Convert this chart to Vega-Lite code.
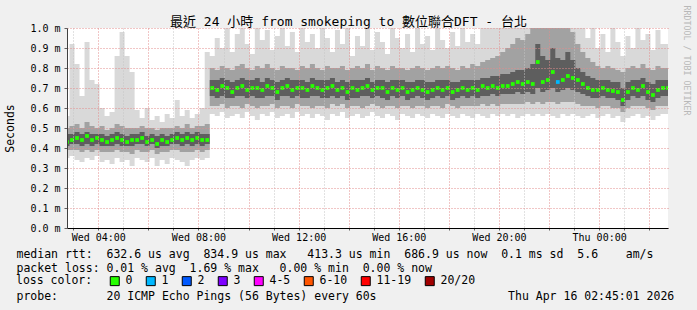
{
  "$schema": "https://vega.github.io/schema/vega-lite/v6.json",
  "width": 601,
  "height": 200,
  "autosize": {"type": "none"},
  "padding": {"left": 67, "top": 28, "right": 29, "bottom": 82},
  "background": "#f0f0f0",
  "config": {
    "view": {"stroke": null, "fill": "#ffffff"},
    "font": "DejaVu Sans Mono, Noto Sans CJK TC",
    "axis": {"labelFont": "DejaVu Sans Mono", "titleFont": "DejaVu Sans Mono", "labelColor": "#000000", "titleColor": "#000000", "titleFontWeight": "normal"},
    "legend": {"labelFont": "DejaVu Sans Mono", "titleFont": "DejaVu Sans Mono"}
  },
  "title": {
    "text": "最近 24 小時 from smokeping to 數位聯合DFT - 台北",
    "font": "DejaVu Sans Mono, Noto Sans CJK TC",
    "fontSize": 13,
    "fontWeight": "normal",
    "color": "#000000",
    "anchor": "middle",
    "frame": "group",
    "dx": -19,
    "baseline": "middle",
    "offset": -30
  },
  "data": {"values": [
    {"t":"2026-04-15T02:45:00Z","m":0.43,"a":0.35,"b":0.39,"c":0.41,"d":0.47,"e":0.50,"f":0.56,"l":"0"},
    {"t":"2026-04-15T02:57:00Z","m":0.44,"a":0.36,"b":0.39,"c":0.42,"d":0.47,"e":0.51,"f":0.92,"l":"0"},
    {"t":"2026-04-15T03:09:00Z","m":0.45,"a":0.34,"b":0.39,"c":0.42,"d":0.48,"e":0.52,"f":0.82,"l":"0"},
    {"t":"2026-04-15T03:21:00Z","m":0.44,"a":0.33,"b":0.38,"c":0.41,"d":0.47,"e":0.50,"f":0.66,"l":"0"},
    {"t":"2026-04-15T03:33:00Z","m":0.46,"a":0.35,"b":0.39,"c":0.42,"d":0.48,"e":0.53,"f":0.93,"l":"0"},
    {"t":"2026-04-15T03:45:00Z","m":0.44,"a":0.34,"b":0.38,"c":0.41,"d":0.47,"e":0.51,"f":0.74,"l":"0"},
    {"t":"2026-04-15T03:57:00Z","m":0.45,"a":0.36,"b":0.39,"c":0.42,"d":0.47,"e":0.50,"f":0.72,"l":"0"},
    {"t":"2026-04-15T04:09:00Z","m":0.44,"a":0.33,"b":0.38,"c":0.41,"d":0.47,"e":0.51,"f":0.60,"l":"0"},
    {"t":"2026-04-15T04:21:00Z","m":0.43,"a":0.34,"b":0.38,"c":0.41,"d":0.46,"e":0.49,"f":0.56,"l":"0"},
    {"t":"2026-04-15T04:33:00Z","m":0.44,"a":0.32,"b":0.38,"c":0.41,"d":0.47,"e":0.50,"f":0.58,"l":"0"},
    {"t":"2026-04-15T04:45:00Z","m":0.45,"a":0.35,"b":0.39,"c":0.42,"d":0.48,"e":0.52,"f":0.86,"l":"0"},
    {"t":"2026-04-15T04:57:00Z","m":0.44,"a":0.33,"b":0.38,"c":0.41,"d":0.47,"e":0.51,"f":0.98,"l":"0"},
    {"t":"2026-04-15T05:09:00Z","m":0.43,"a":0.34,"b":0.38,"c":0.41,"d":0.46,"e":0.50,"f":0.86,"l":"0"},
    {"t":"2026-04-15T05:21:00Z","m":0.44,"a":0.31,"b":0.37,"c":0.41,"d":0.47,"e":0.50,"f":0.78,"l":"0"},
    {"t":"2026-04-15T05:33:00Z","m":0.44,"a":0.35,"b":0.39,"c":0.42,"d":0.47,"e":0.50,"f":0.59,"l":"0"},
    {"t":"2026-04-15T05:45:00Z","m":0.45,"a":0.34,"b":0.38,"c":0.42,"d":0.48,"e":0.51,"f":0.55,"l":"0"},
    {"t":"2026-04-15T05:57:00Z","m":0.43,"a":0.33,"b":0.38,"c":0.41,"d":0.46,"e":0.50,"f":0.60,"l":"0"},
    {"t":"2026-04-15T06:09:00Z","m":0.44,"a":0.35,"b":0.39,"c":0.42,"d":0.47,"e":0.50,"f":0.54,"l":"0"},
    {"t":"2026-04-15T06:21:00Z","m":0.42,"a":0.31,"b":0.37,"c":0.40,"d":0.46,"e":0.49,"f":0.56,"l":"0"},
    {"t":"2026-04-15T06:33:00Z","m":0.44,"a":0.34,"b":0.38,"c":0.41,"d":0.47,"e":0.50,"f":0.53,"l":"0"},
    {"t":"2026-04-15T06:45:00Z","m":0.43,"a":0.32,"b":0.38,"c":0.41,"d":0.46,"e":0.50,"f":0.57,"l":"0"},
    {"t":"2026-04-15T06:57:00Z","m":0.44,"a":0.35,"b":0.39,"c":0.42,"d":0.47,"e":0.50,"f":0.55,"l":"0"},
    {"t":"2026-04-15T07:09:00Z","m":0.45,"a":0.34,"b":0.39,"c":0.42,"d":0.48,"e":0.51,"f":0.64,"l":"0"},
    {"t":"2026-04-15T07:21:00Z","m":0.44,"a":0.33,"b":0.38,"c":0.41,"d":0.47,"e":0.50,"f":0.56,"l":"0"},
    {"t":"2026-04-15T07:33:00Z","m":0.45,"a":0.31,"b":0.38,"c":0.42,"d":0.48,"e":0.52,"f":0.59,"l":"0"},
    {"t":"2026-04-15T07:45:00Z","m":0.44,"a":0.34,"b":0.38,"c":0.41,"d":0.47,"e":0.50,"f":0.55,"l":"0"},
    {"t":"2026-04-15T07:57:00Z","m":0.45,"a":0.35,"b":0.39,"c":0.42,"d":0.48,"e":0.51,"f":0.57,"l":"0"},
    {"t":"2026-04-15T08:09:00Z","m":0.44,"a":0.34,"b":0.38,"c":0.41,"d":0.47,"e":0.51,"f":0.60,"l":"0"},
    {"t":"2026-04-15T08:21:00Z","m":0.44,"a":0.35,"b":0.39,"c":0.42,"d":0.47,"e":0.52,"f":0.88,"l":"0"},
    {"t":"2026-04-15T08:33:00Z","m":0.70,"a":0.57,"b":0.61,"c":0.66,"d":0.74,"e":0.80,"f":0.86,"l":"0"},
    {"t":"2026-04-15T08:45:00Z","m":0.69,"a":0.56,"b":0.61,"c":0.65,"d":0.74,"e":0.79,"f":0.95,"l":"0"},
    {"t":"2026-04-15T08:57:00Z","m":0.71,"a":0.58,"b":0.62,"c":0.66,"d":0.75,"e":0.81,"f":0.90,"l":"0"},
    {"t":"2026-04-15T09:09:00Z","m":0.70,"a":0.55,"b":0.60,"c":0.65,"d":0.74,"e":0.80,"f":1.00,"l":"0"},
    {"t":"2026-04-15T09:21:00Z","m":0.68,"a":0.56,"b":0.61,"c":0.65,"d":0.73,"e":0.79,"f":0.88,"l":"0"},
    {"t":"2026-04-15T09:33:00Z","m":0.70,"a":0.57,"b":0.61,"c":0.66,"d":0.74,"e":0.81,"f":0.97,"l":"0"},
    {"t":"2026-04-15T09:45:00Z","m":0.71,"a":0.55,"b":0.60,"c":0.66,"d":0.75,"e":0.82,"f":1.00,"l":"0"},
    {"t":"2026-04-15T09:57:00Z","m":0.69,"a":0.58,"b":0.62,"c":0.65,"d":0.74,"e":0.80,"f":0.92,"l":"0"},
    {"t":"2026-04-15T10:09:00Z","m":0.70,"a":0.56,"b":0.61,"c":0.66,"d":0.74,"e":0.79,"f":0.87,"l":"0"},
    {"t":"2026-04-15T10:21:00Z","m":0.70,"a":0.54,"b":0.60,"c":0.65,"d":0.75,"e":0.81,"f":1.00,"l":"0"},
    {"t":"2026-04-15T10:33:00Z","m":0.69,"a":0.57,"b":0.61,"c":0.65,"d":0.73,"e":0.80,"f":0.94,"l":"0"},
    {"t":"2026-04-15T10:45:00Z","m":0.71,"a":0.56,"b":0.61,"c":0.66,"d":0.75,"e":0.82,"f":0.99,"l":"0"},
    {"t":"2026-04-15T10:57:00Z","m":0.70,"a":0.58,"b":0.62,"c":0.66,"d":0.74,"e":0.80,"f":0.89,"l":"0"},
    {"t":"2026-04-15T11:09:00Z","m":0.68,"a":0.55,"b":0.60,"c":0.64,"d":0.73,"e":0.79,"f":0.96,"l":"0"},
    {"t":"2026-04-15T11:21:00Z","m":0.70,"a":0.56,"b":0.61,"c":0.66,"d":0.74,"e":0.81,"f":1.00,"l":"0"},
    {"t":"2026-04-15T11:33:00Z","m":0.71,"a":0.57,"b":0.61,"c":0.66,"d":0.75,"e":0.80,"f":0.91,"l":"0"},
    {"t":"2026-04-15T11:45:00Z","m":0.69,"a":0.55,"b":0.60,"c":0.65,"d":0.74,"e":0.80,"f":0.98,"l":"0"},
    {"t":"2026-04-15T11:57:00Z","m":0.70,"a":0.58,"b":0.62,"c":0.66,"d":0.74,"e":0.79,"f":0.88,"l":"0"},
    {"t":"2026-04-15T12:09:00Z","m":0.70,"a":0.56,"b":0.61,"c":0.65,"d":0.74,"e":0.81,"f":1.00,"l":"0"},
    {"t":"2026-04-15T12:21:00Z","m":0.69,"a":0.57,"b":0.61,"c":0.65,"d":0.73,"e":0.80,"f":0.93,"l":"0"},
    {"t":"2026-04-15T12:33:00Z","m":0.71,"a":0.55,"b":0.60,"c":0.66,"d":0.75,"e":0.82,"f":0.97,"l":"0"},
    {"t":"2026-04-15T12:45:00Z","m":0.70,"a":0.57,"b":0.61,"c":0.66,"d":0.74,"e":0.80,"f":0.90,"l":"0"},
    {"t":"2026-04-15T12:57:00Z","m":0.69,"a":0.56,"b":0.61,"c":0.65,"d":0.74,"e":0.79,"f":1.00,"l":"0"},
    {"t":"2026-04-15T13:09:00Z","m":0.70,"a":0.54,"b":0.60,"c":0.65,"d":0.74,"e":0.81,"f":0.95,"l":"0"},
    {"t":"2026-04-15T13:21:00Z","m":0.71,"a":0.57,"b":0.62,"c":0.66,"d":0.75,"e":0.80,"f":0.88,"l":"0"},
    {"t":"2026-04-15T13:33:00Z","m":0.69,"a":0.56,"b":0.61,"c":0.65,"d":0.73,"e":0.80,"f":0.99,"l":"0"},
    {"t":"2026-04-15T13:45:00Z","m":0.70,"a":0.58,"b":0.62,"c":0.66,"d":0.74,"e":0.81,"f":0.92,"l":"0"},
    {"t":"2026-04-15T13:57:00Z","m":0.68,"a":0.55,"b":0.60,"c":0.64,"d":0.73,"e":0.79,"f":1.00,"l":"0"},
    {"t":"2026-04-15T14:09:00Z","m":0.70,"a":0.56,"b":0.61,"c":0.65,"d":0.74,"e":0.80,"f":0.86,"l":"0"},
    {"t":"2026-04-15T14:21:00Z","m":0.69,"a":0.57,"b":0.61,"c":0.65,"d":0.74,"e":0.81,"f":0.96,"l":"0"},
    {"t":"2026-04-15T14:33:00Z","m":0.70,"a":0.55,"b":0.60,"c":0.66,"d":0.74,"e":0.80,"f":0.91,"l":"0"},
    {"t":"2026-04-15T14:45:00Z","m":0.71,"a":0.56,"b":0.61,"c":0.66,"d":0.75,"e":0.82,"f":1.00,"l":"0"},
    {"t":"2026-04-15T14:57:00Z","m":0.69,"a":0.58,"b":0.62,"c":0.65,"d":0.73,"e":0.79,"f":0.89,"l":"0"},
    {"t":"2026-04-15T15:09:00Z","m":0.70,"a":0.56,"b":0.61,"c":0.66,"d":0.74,"e":0.81,"f":0.98,"l":"0"},
    {"t":"2026-04-15T15:21:00Z","m":0.70,"a":0.55,"b":0.60,"c":0.65,"d":0.74,"e":0.80,"f":0.93,"l":"0"},
    {"t":"2026-04-15T15:33:00Z","m":0.68,"a":0.57,"b":0.61,"c":0.64,"d":0.73,"e":0.79,"f":0.87,"l":"0"},
    {"t":"2026-04-15T15:45:00Z","m":0.70,"a":0.56,"b":0.61,"c":0.66,"d":0.74,"e":0.81,"f":1.00,"l":"0"},
    {"t":"2026-04-15T15:57:00Z","m":0.69,"a":0.54,"b":0.60,"c":0.65,"d":0.74,"e":0.80,"f":0.95,"l":"0"},
    {"t":"2026-04-15T16:09:00Z","m":0.70,"a":0.57,"b":0.61,"c":0.66,"d":0.74,"e":0.80,"f":0.90,"l":"0"},
    {"t":"2026-04-15T16:21:00Z","m":0.68,"a":0.56,"b":0.61,"c":0.64,"d":0.73,"e":0.79,"f":0.97,"l":"0"},
    {"t":"2026-04-15T16:33:00Z","m":0.69,"a":0.55,"b":0.60,"c":0.65,"d":0.73,"e":0.80,"f":0.88,"l":"0"},
    {"t":"2026-04-15T16:45:00Z","m":0.70,"a":0.57,"b":0.61,"c":0.66,"d":0.74,"e":0.81,"f":1.00,"l":"0"},
    {"t":"2026-04-15T16:57:00Z","m":0.69,"a":0.56,"b":0.61,"c":0.65,"d":0.74,"e":0.80,"f":0.92,"l":"0"},
    {"t":"2026-04-15T17:09:00Z","m":0.68,"a":0.55,"b":0.60,"c":0.64,"d":0.73,"e":0.79,"f":0.96,"l":"0"},
    {"t":"2026-04-15T17:21:00Z","m":0.69,"a":0.57,"b":0.61,"c":0.65,"d":0.73,"e":0.80,"f":0.89,"l":"0"},
    {"t":"2026-04-15T17:33:00Z","m":0.70,"a":0.56,"b":0.61,"c":0.66,"d":0.74,"e":0.81,"f":1.00,"l":"0"},
    {"t":"2026-04-15T17:45:00Z","m":0.69,"a":0.55,"b":0.60,"c":0.65,"d":0.74,"e":0.80,"f":0.94,"l":"0"},
    {"t":"2026-04-15T17:57:00Z","m":0.70,"a":0.57,"b":0.62,"c":0.66,"d":0.74,"e":0.81,"f":0.90,"l":"0"},
    {"t":"2026-04-15T18:09:00Z","m":0.68,"a":0.56,"b":0.61,"c":0.64,"d":0.73,"e":0.80,"f":0.98,"l":"0"},
    {"t":"2026-04-15T18:21:00Z","m":0.69,"a":0.55,"b":0.60,"c":0.65,"d":0.73,"e":0.79,"f":0.91,"l":"0"},
    {"t":"2026-04-15T18:33:00Z","m":0.70,"a":0.57,"b":0.61,"c":0.66,"d":0.74,"e":0.81,"f":1.00,"l":"0"},
    {"t":"2026-04-15T18:45:00Z","m":0.69,"a":0.56,"b":0.61,"c":0.65,"d":0.74,"e":0.80,"f":0.93,"l":"0"},
    {"t":"2026-04-15T18:57:00Z","m":0.70,"a":0.55,"b":0.61,"c":0.66,"d":0.74,"e":0.82,"f":0.97,"l":"0"},
    {"t":"2026-04-15T19:09:00Z","m":0.69,"a":0.57,"b":0.61,"c":0.65,"d":0.74,"e":0.81,"f":0.92,"l":"0"},
    {"t":"2026-04-15T19:21:00Z","m":0.71,"a":0.56,"b":0.62,"c":0.66,"d":0.75,"e":0.83,"f":1.00,"l":"0"},
    {"t":"2026-04-15T19:33:00Z","m":0.70,"a":0.55,"b":0.61,"c":0.66,"d":0.75,"e":0.84,"f":1.00,"l":"0"},
    {"t":"2026-04-15T19:45:00Z","m":0.71,"a":0.57,"b":0.62,"c":0.67,"d":0.76,"e":0.85,"f":1.00,"l":"0"},
    {"t":"2026-04-15T19:57:00Z","m":0.70,"a":0.56,"b":0.61,"c":0.66,"d":0.76,"e":0.86,"f":1.00,"l":"0"},
    {"t":"2026-04-15T20:09:00Z","m":0.71,"a":0.57,"b":0.62,"c":0.67,"d":0.77,"e":0.88,"f":1.00,"l":"0"},
    {"t":"2026-04-15T20:21:00Z","m":0.71,"a":0.56,"b":0.62,"c":0.67,"d":0.77,"e":0.90,"f":1.00,"l":"0"},
    {"t":"2026-04-15T20:33:00Z","m":0.72,"a":0.57,"b":0.62,"c":0.67,"d":0.78,"e":0.92,"f":1.00,"l":"0"},
    {"t":"2026-04-15T20:45:00Z","m":0.73,"a":0.55,"b":0.62,"c":0.68,"d":0.79,"e":0.95,"f":1.00,"l":"0"},
    {"t":"2026-04-15T20:57:00Z","m":0.72,"a":0.56,"b":0.62,"c":0.67,"d":0.79,"e":0.94,"f":1.00,"l":"0"},
    {"t":"2026-04-15T21:09:00Z","m":0.73,"a":0.57,"b":0.63,"c":0.68,"d":0.80,"e":0.97,"f":1.00,"l":"0"},
    {"t":"2026-04-15T21:21:00Z","m":0.72,"a":0.56,"b":0.62,"c":0.67,"d":0.82,"e":1.00,"f":1.00,"l":"0"},
    {"t":"2026-04-15T21:33:00Z","m":0.83,"a":0.57,"b":0.63,"c":0.70,"d":0.92,"e":1.00,"f":1.00,"l":"0"},
    {"t":"2026-04-15T21:45:00Z","m":0.73,"a":0.56,"b":0.62,"c":0.68,"d":0.86,"e":1.00,"f":1.00,"l":"0"},
    {"t":"2026-04-15T21:57:00Z","m":0.74,"a":0.57,"b":0.63,"c":0.69,"d":0.84,"e":1.00,"f":1.00,"l":"0"},
    {"t":"2026-04-15T22:09:00Z","m":0.78,"a":0.56,"b":0.63,"c":0.70,"d":0.90,"e":1.00,"f":1.00,"l":"0"},
    {"t":"2026-04-15T22:21:00Z","m":0.73,"a":0.55,"b":0.62,"c":0.68,"d":0.85,"e":1.00,"f":1.00,"l":"1"},
    {"t":"2026-04-15T22:33:00Z","m":0.74,"a":0.57,"b":0.63,"c":0.69,"d":0.84,"e":1.00,"f":1.00,"l":"0"},
    {"t":"2026-04-15T22:45:00Z","m":0.76,"a":0.56,"b":0.63,"c":0.70,"d":0.88,"e":1.00,"f":1.00,"l":"0"},
    {"t":"2026-04-15T22:57:00Z","m":0.75,"a":0.57,"b":0.63,"c":0.69,"d":0.84,"e":0.98,"f":1.00,"l":"0"},
    {"t":"2026-04-15T23:09:00Z","m":0.74,"a":0.56,"b":0.62,"c":0.68,"d":0.80,"e":0.92,"f":1.00,"l":"0"},
    {"t":"2026-04-15T23:21:00Z","m":0.72,"a":0.55,"b":0.61,"c":0.67,"d":0.78,"e":0.88,"f":1.00,"l":"0"},
    {"t":"2026-04-15T23:33:00Z","m":0.70,"a":0.56,"b":0.61,"c":0.66,"d":0.76,"e":0.85,"f":0.95,"l":"0"},
    {"t":"2026-04-15T23:45:00Z","m":0.69,"a":0.57,"b":0.61,"c":0.65,"d":0.75,"e":0.83,"f":1.00,"l":"0"},
    {"t":"2026-04-15T23:57:00Z","m":0.69,"a":0.55,"b":0.60,"c":0.65,"d":0.74,"e":0.81,"f":0.90,"l":"0"},
    {"t":"2026-04-16T00:09:00Z","m":0.70,"a":0.56,"b":0.61,"c":0.66,"d":0.74,"e":0.80,"f":0.97,"l":"0"},
    {"t":"2026-04-16T00:21:00Z","m":0.69,"a":0.57,"b":0.61,"c":0.65,"d":0.74,"e":0.81,"f":0.88,"l":"0"},
    {"t":"2026-04-16T00:33:00Z","m":0.685,"a":0.55,"b":0.60,"c":0.65,"d":0.73,"e":0.80,"f":1.00,"l":"0"},
    {"t":"2026-04-16T00:45:00Z","m":0.68,"a":0.56,"b":0.60,"c":0.64,"d":0.73,"e":0.79,"f":0.93,"l":"0"},
    {"t":"2026-04-16T00:57:00Z","m":0.64,"a":0.53,"b":0.58,"c":0.61,"d":0.70,"e":0.78,"f":0.86,"l":"0"},
    {"t":"2026-04-16T01:09:00Z","m":0.68,"a":0.55,"b":0.60,"c":0.64,"d":0.73,"e":0.80,"f":0.96,"l":"0"},
    {"t":"2026-04-16T01:21:00Z","m":0.70,"a":0.56,"b":0.61,"c":0.66,"d":0.74,"e":0.81,"f":0.90,"l":"0"},
    {"t":"2026-04-16T01:33:00Z","m":0.69,"a":0.57,"b":0.61,"c":0.65,"d":0.74,"e":0.80,"f":1.00,"l":"0"},
    {"t":"2026-04-16T01:45:00Z","m":0.71,"a":0.55,"b":0.61,"c":0.66,"d":0.75,"e":0.82,"f":0.94,"l":"0"},
    {"t":"2026-04-16T01:57:00Z","m":0.68,"a":0.56,"b":0.60,"c":0.64,"d":0.73,"e":0.80,"f":0.97,"l":"0"},
    {"t":"2026-04-16T02:09:00Z","m":0.665,"a":0.54,"b":0.59,"c":0.63,"d":0.72,"e":0.79,"f":0.89,"l":"0"},
    {"t":"2026-04-16T02:21:00Z","m":0.69,"a":0.56,"b":0.61,"c":0.65,"d":0.74,"e":0.81,"f":0.99,"l":"0"},
    {"t":"2026-04-16T02:33:00Z","m":0.70,"a":0.57,"b":0.61,"c":0.66,"d":0.74,"e":0.80,"f":0.92,"l":"0"},
    {"t":"2026-04-16T02:45:00Z","m":0.70,"a":0.57,"b":0.61,"c":0.66,"d":0.74,"e":0.80,"f":0.92,"l":"0"}
  ]},
  "encoding": {
    "x": {
      "field": "t",
      "type": "temporal",
      "scale": {
        "type": "utc",
        "nice": false,
        "domain": [
          {"year": 2026, "month": 4, "date": 15, "hours": 2, "minutes": 45, "seconds": 1, "utc": true},
          {"year": 2026, "month": 4, "date": 16, "hours": 2, "minutes": 45, "seconds": 1, "utc": true}
        ]
      },
      "axis": {
        "tickCount": 24,
        "format": "%a %H:%M",
        "labelExpr": "hours(datum.value) % 4 == 0 ? datum.label : ''",
        "labelOverlap": false,
        "labelFlush": false,
        "labelFontSize": 10,
        "labelPadding": 2,
        "labelBaseline": "top",
        "tickSize": 2,
        "tickColor": "#606060",
        "domainColor": "#000000",
        "grid": true,
        "gridColor": {"condition": {"test": "hours(datum.value) % 2 == 0", "value": "#e38c8c"}, "value": "#c4c4c4"},
        "gridDash": [1, 2],
        "gridWidth": 1,
        "zindex": 1,
        "title": [
          "median rtt:\u00a0\u00a0632.6 us avg\u00a0\u00a0834.9 us max\u00a0\u00a0\u00a0413.3 us min\u00a0\u00a0686.9 us now\u00a0\u00a00.1 ms sd\u00a0\u00a05.6\u00a0\u00a0\u00a0\u00a0am/s",
          "packet loss: 0.01 % avg\u00a0\u00a01.69 % max\u00a0\u00a0\u00a00.00 % min\u00a0\u00a00.00 % now",
          "\u200b",
          "probe:\u00a0\u00a0\u00a0\u00a0\u00a0\u00a0\u00a020 ICMP Echo Pings (56 Bytes) every 60s\u00a0\u00a0\u00a0\u00a0\u00a0\u00a0\u00a0\u00a0\u00a0\u00a0\u00a0\u00a0\u00a0\u00a0\u00a0\u00a0\u00a0\u00a0\u00a0Thu Apr 16 02:45:01 2026"
        ],
        "titleFontSize": 11.5,
        "titleLineHeight": 14,
        "titleAlign": "left",
        "titleAnchor": "start",
        "titleBaseline": "top",
        "titleX": -51,
        "titleY": 20
      }
    }
  },
  "layer": [
    {
      "mark": {"type": "area", "interpolate": "step", "color": "#d9d9d9", "clip": true},
      "encoding": {
        "y": {
          "field": "a", "type": "quantitative",
          "scale": {"domain": [0, 1], "nice": false, "zero": false},
          "axis": {
            "values": [0, 0.1, 0.2, 0.3, 0.4, 0.5, 0.6, 0.7, 0.8, 0.9, 1.0],
            "format": ".1f",
            "labelExpr": "datum.label + ' m'",
            "labelOverlap": false,
            "labelFontSize": 10,
            "labelPadding": 4,
            "tickSize": 3,
            "tickColor": "#606060",
            "domainColor": "#404040",
            "grid": true,
            "gridColor": "#e38c8c",
            "gridDash": [1, 2],
            "gridWidth": 1,
            "zindex": 1,
            "title": "Seconds",
            "titleFontSize": 11.5,
            "titleX": -52,
            "titleY": 100
          }
        },
        "y2": {"field": "f"}
      }
    },
    {
      "mark": {"type": "area", "interpolate": "step", "color": "#a2a2a2", "clip": true},
      "encoding": {
        "y": {"field": "b", "type": "quantitative", "axis": null},
        "y2": {"field": "e"}
      }
    },
    {
      "mark": {"type": "area", "interpolate": "step", "color": "#5e5e5e", "clip": true},
      "encoding": {
        "y": {
          "field": "c", "type": "quantitative",
          "axis": {
            "orient": "right",
            "labels": false, "ticks": false, "domain": false, "grid": false,
            "title": "RRDTOOL / TOBI OETIKER",
            "titleFontSize": 8.3,
            "titleColor": "#b8b8b8",
            "titleAngle": 90,
            "titleX": 13,
            "titleY": 32
          }
        },
        "y2": {"field": "d"}
      }
    },
    {
      "mark": {"type": "point", "shape": "square", "size": 14, "opacity": 1, "filled": true, "clip": true},
      "encoding": {
        "y": {"field": "m", "type": "quantitative", "axis": null},
        "color": {
          "field": "l", "type": "nominal",
          "scale": {
            "domain": ["0", "1", "2", "3", "4-5", "6-10", "11-19", "20/20"],
            "range": ["#26ff00", "#00b8ff", "#0059ff", "#7e00ff", "#ff00ff", "#ff5500", "#ff0000", "#a10000"]
          },
          "legend": {
            "title": "loss color:",
            "orient": "none",
            "direction": "horizontal",
            "legendX": -51,
            "legendY": 247,
            "titleOrient": "left",
            "titleFontSize": 11.5,
            "titleFontWeight": "normal",
            "titleColor": "#000000",
            "titlePadding": 16,
            "labelFontSize": 11.5,
            "labelColor": "#000000",
            "labelOffset": 5,
            "columnPadding": 11,
            "symbolSize": 81,
            "symbolStrokeColor": "#000000",
            "symbolStrokeWidth": 1,
            "symbolOpacity": 1
          }
        }
      }
    }
  ],
  "resolve": {"axis": {"y": "independent"}}
}
